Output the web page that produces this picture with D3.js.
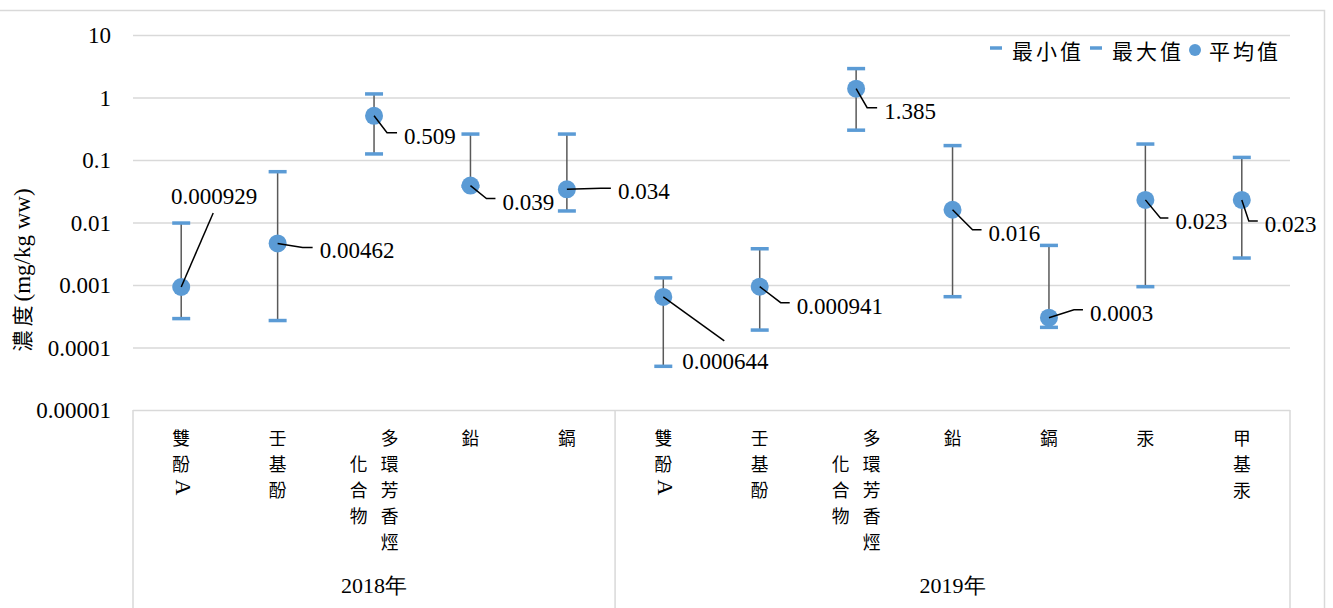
<!DOCTYPE html>
<html><head><meta charset="utf-8">
<script src="https://cdn.jsdelivr.net/npm/d3@7"></script>
<style>body{margin:0;background:#fff;overflow:hidden} svg{display:block}
.serif{font-family:"Liberation Serif","Times New Roman",serif}
.cjk{font-family:"Noto Sans CJK TC",sans-serif}
</style>
</head><body><svg id="c" width="1333" height="608"></svg>
<script>
// ---------- data ----------
const years = ["2018年", "2019年"];
const categories = ["雙酚A", "壬基酚", "多環芳香烴化合物", "鉛", "鎘",
                    "雙酚A", "壬基酚", "多環芳香烴化合物", "鉛", "鎘", "汞", "甲基汞"];
const categoryYear = [0, 0, 0, 0, 0, 1, 1, 1, 1, 1, 1, 1];
const meanValues = [0.000929, 0.00462, 0.509, 0.039, 0.034,
                    0.000644, 0.000941, 1.385, 0.016, 0.0003, 0.023, 0.023];
const meanLabels = ["0.000929", "0.00462", "0.509", "0.039", "0.034",
                    "0.000644", "0.000941", "1.385", "0.016", "0.0003", "0.023", "0.023"];
const minValues = [0.00029, 0.00027, 0.125, 0.038, 0.0153,
                   0.00005, 0.00019, 0.30, 0.00065, 0.00021, 0.00094, 0.0027];
const maxValues = [0.0098, 0.065, 1.14, 0.26, 0.26,
                   0.0013, 0.0038, 2.9, 0.17, 0.0043, 0.18, 0.11];
const yTicks = [10, 1, 0.1, 0.01, 0.001, 0.0001, 0.00001];
const yTickLabels = ["10", "1", "0.1", "0.01", "0.001", "0.0001", "0.00001"];
const legendLabels = ["最小值", "最大值", "平均值"];
const yTitleCJK = "濃度";
const yTitleUnit = "(mg/kg ww)";

// ---------- layout (label placement offsets, px) ----------
// type "e": elbow leader [dx, dy, horizontal length]; type "v": straight leader to centred text
const labelPlacement = [
  {t: "v", dx: 32, dy: -74, tb: -9},
  {t: "e", dx: 25, dy: 4, h: 10},
  {t: "e", dx: 13, dy: 17, h: 10},
  {t: "e", dx: 16, dy: 13, h: 9},
  {t: "e", dx: 34, dy: -1, h: 10},
  {t: "v", dx: 61, dy: 44, tb: 28},
  {t: "e", dx: 21, dy: 16, h: 9},
  {t: "e", dx: 11, dy: 19, h: 10},
  {t: "e", dx: 20, dy: 20, h: 9},
  {t: "e", dx: 25, dy: -8, h: 9},
  {t: "e", dx: 15, dy: 18, h: 8},
  {t: "e", dx: 7, dy: 21, h: 9}
];

const BLUE = "#5b9bd5", GRID = "#d9d9d9";

const svg = d3.select("#c");
const plot = {left: 133, right: 1290, top: 35, bottom: 410};

// chart border
svg.append("rect").attr("x", -2).attr("y", 10.5).attr("width", 1326.5).attr("height", 620)
  .attr("fill", "none").attr("stroke", GRID).attr("stroke-width", 1.5);

const x = d3.scaleBand().domain(d3.range(categories.length)).range([plot.left, plot.right]);
const cx = i => x(i) + x.bandwidth() / 2;
const y = d3.scaleLog().domain([0.00001, 10]).range([plot.bottom, plot.top]);

// gridlines
const grid = svg.append("g").attr("transform", `translate(${plot.left},0)`)
  .call(d3.axisLeft(y).tickValues(yTicks).tickSize(-(plot.right - plot.left)).tickFormat(""));
grid.select(".domain").remove();
grid.selectAll("line").attr("stroke", GRID).attr("stroke-width", 1.5);

// y tick labels
const yAxis = svg.append("g").attr("transform", `translate(${plot.left},0)`)
  .call(d3.axisLeft(y).tickValues(yTicks).tickSize(0).tickPadding(22)
    .tickFormat((d, i) => yTickLabels[i]));
yAxis.attr("font-family", null).attr("font-size", null);
yAxis.select(".domain").remove();
yAxis.selectAll("text").attr("class", "serif").style("font-size", "23px").attr("fill", "#000")
  .attr("dy", "0.33em");

// y title
const yt = svg.append("text").attr("transform", `translate(30,270) rotate(-90)`)
  .attr("text-anchor", "middle").attr("fill", "#000");
yt.append("tspan").attr("class", "cjk").style("font-size", "21px").attr("letter-spacing", 4).text(yTitleCJK);
yt.append("tspan").attr("class", "serif").style("font-size", "23px").text(yTitleUnit);

// category axis: group separators
const groupBounds = years.map((yr, g) => {
  const ids = categoryYear.map((v, i) => v === g ? i : -1).filter(i => i >= 0);
  return {start: x(ids[0]), end: x(ids[ids.length - 1]) + x.bandwidth(), label: yr};
});
const sepX = [plot.left, ...groupBounds.map(b => b.end)];
svg.append("g").selectAll("line").data(sepX).join("line")
  .attr("x1", d => d).attr("x2", d => d).attr("y1", plot.bottom).attr("y2", 612)
  .attr("stroke", GRID).attr("stroke-width", 1.5);

// category labels (stacked vertically, wrapped into columns, right column first)
const maxPerCol = 5, rowPitch = 26, colGap = 31, firstRow = 437;
const catFont = 17.8, latinFont = 22;
categories.forEach((name, i) => {
  const chars = Array.from(name);
  const cols = [];
  for (let k = 0; k < chars.length; k += maxPerCol) cols.push(chars.slice(k, k + maxPerCol));
  const maxLen = d3.max(cols, c => c.length);
  cols.forEach((col, ci) => {
    const colX = cx(i) + (cols.length - 1) / 2 * colGap - ci * colGap;
    const off = (maxLen - col.length) / 2;
    const t = svg.append("text").attr("text-anchor", "middle")
      .attr("dominant-baseline", "central").attr("fill", "#000");
    col.forEach((ch, ri) => {
      const yy = firstRow + (ri + off) * rowPitch;
      const latin = /[A-Za-z0-9]/.test(ch);
      const ts = t.append("tspan").attr("x", colX).text(ch);
      if (latin) {
        ts.attr("class", "serif").style("font-size", latinFont + "px")
          .attr("x", colX - 5).attr("y", yy - 0.36 * latinFont - 9)
          .attr("rotate", 90).attr("text-anchor", "start");
      } else {
        ts.attr("class", "cjk").style("font-size", catFont + "px").attr("y", yy);
      }
    });
  });
});

// year labels
svg.append("g").selectAll("text").data(groupBounds).join("text")
  .attr("x", d => (d.start + d.end) / 2).attr("y", 593)
  .attr("text-anchor", "middle").attr("fill", "#000")
  .attr("class", "serif").style("font-size", "22px").text(d => d.label);

// error bars
const idx = d3.range(categories.length);
svg.append("g").selectAll("line").data(idx).join("line")
  .attr("x1", cx).attr("x2", cx)
  .attr("y1", i => y(minValues[i])).attr("y2", i => y(maxValues[i]))
  .attr("stroke", "#595959").attr("stroke-width", 1.5);
const capW = 9;
svg.append("g").selectAll("line").data(idx.flatMap(i => [[i, minValues[i]], [i, maxValues[i]]])).join("line")
  .attr("x1", d => cx(d[0]) - capW).attr("x2", d => cx(d[0]) + capW)
  .attr("y1", d => y(d[1])).attr("y2", d => y(d[1]))
  .attr("stroke", BLUE).attr("stroke-width", 3.5);

// mean points
svg.append("g").selectAll("circle").data(idx).join("circle")
  .attr("cx", cx).attr("cy", i => y(meanValues[i])).attr("r", 9).attr("fill", BLUE);

// data labels with leaders
idx.forEach(i => {
  const p = labelPlacement[i];
  const x0 = cx(i), y0 = y(meanValues[i]);
  const ex = x0 + p.dx, ey = y0 + p.dy;
  if (p.t === "e") {
    svg.append("path").attr("d", d3.line()([[x0, y0], [ex, ey], [ex + p.h, ey]]))
      .attr("fill", "none").attr("stroke", "#000").attr("stroke-width", 1.5);
    svg.append("text").attr("x", ex + p.h + 7).attr("y", ey + 11)
      .attr("class", "serif").style("font-size", "23px").attr("fill", "#000").text(meanLabels[i]);
  } else {
    svg.append("path").attr("d", d3.line()([[x0, y0], [ex, ey]]))
      .attr("fill", "none").attr("stroke", "#000").attr("stroke-width", 1.5);
    svg.append("text").attr("x", ex + 1).attr("y", ey + p.tb).attr("text-anchor", "middle")
      .attr("class", "serif").style("font-size", "23px").attr("fill", "#000").text(meanLabels[i]);
  }
});

// legend
const lg = svg.append("g");
const legendX = [990, 1090, 1195];
legendLabels.forEach((lab, k) => {
  if (k < 2) {
    lg.append("line").attr("x1", legendX[k]).attr("x2", legendX[k] + 12).attr("y1", 48).attr("y2", 48)
      .attr("stroke", BLUE).attr("stroke-width", 3.5);
  } else {
    lg.append("circle").attr("cx", legendX[k]).attr("cy", 50).attr("r", 6).attr("fill", BLUE);
  }
  lg.append("text").attr("x", legendX[k] + (k < 2 ? 22 : 14)).attr("y", 50)
    .attr("dominant-baseline", "central").attr("class", "cjk").style("font-size", "21px")
    .attr("letter-spacing", 3).attr("fill", "#000").text(lab);
});
</script></body></html>
